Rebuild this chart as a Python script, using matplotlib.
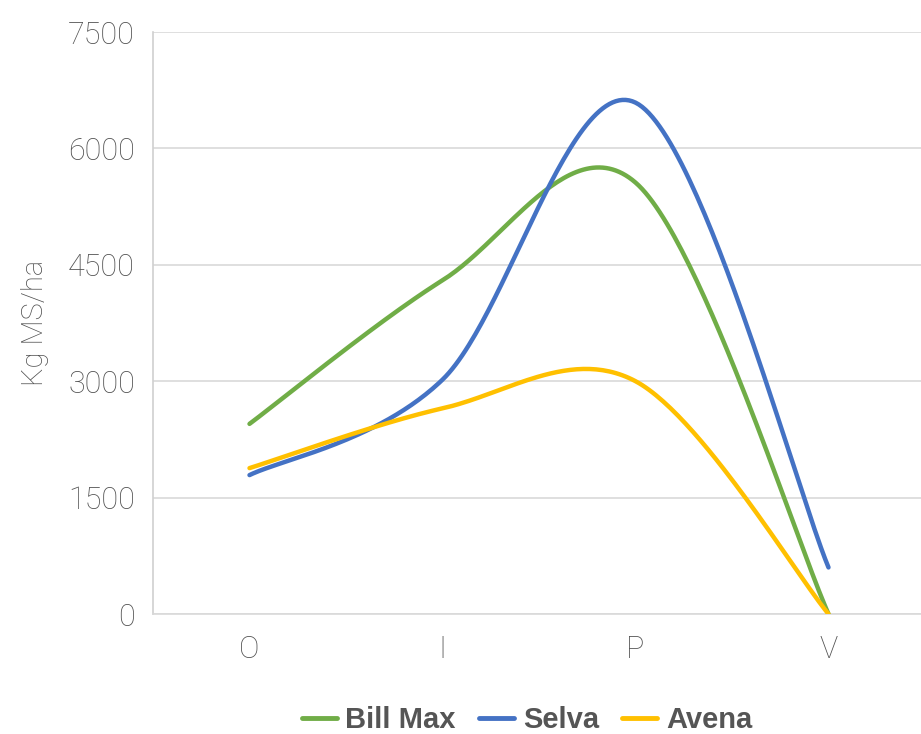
import numpy as np
import matplotlib
matplotlib.use("Agg")
import matplotlib.pyplot as plt
from matplotlib.lines import Line2D

categories = ["O", "I", "P", "V"]
bill_max = [2450, 4300, 5560, 0]
selva = [1790, 3020, 6590, 600]
avena = [1880, 2650, 3000, 0]
series_names = ["Bill Max", "Selva", "Avena"]
colors = ["#70AD47", "#4472C4", "#FFC000"]
yticks = [0, 1500, 3000, 4500, 6000, 7500]

plt.rcParams['font.family'] = ['Roboto', 'DejaVu Sans']


def smooth(xs, ys, n=60):
    xs = np.asarray(xs, float)
    ys = np.asarray(ys, float)
    P = np.column_stack([xs, ys])
    pts = []
    m = len(P)
    for i in range(m - 1):
        p0 = P[i - 1] if i > 0 else P[i]
        p1 = P[i]
        p2 = P[i + 1]
        p3 = P[i + 2] if i + 2 < m else P[i + 1]
        c1 = p1 + (p2 - p0) / 6.0
        c2 = p2 - (p3 - p1) / 6.0
        t = np.linspace(0, 1, n)[:, None]
        seg = ((1 - t) ** 3) * p1 + 3 * ((1 - t) ** 2) * t * c1 + 3 * (1 - t) * t ** 2 * c2 + t ** 3 * p2
        pts.append(seg if i == 0 else seg[1:])
    pts = np.vstack(pts)
    return pts[:, 0], pts[:, 1]


fig = plt.figure(figsize=(9.21, 7.34), dpi=100)
ax = fig.add_axes([153 / 921, 1 - 614 / 734, (925 - 153) / 921, (614 - 32) / 734])

x = np.arange(len(categories))
for name, vals, c in zip(series_names, [bill_max, selva, avena], colors):
    sx, sy = smooth(x, vals)
    ax.plot(sx, sy, color=c, lw=3.2, solid_capstyle='round', label=name, zorder=3)

ax.set_xlim(-0.5, 3.5)
ax.set_ylim(0, 7500)
ax.set_yticks(yticks)
ax.set_xticks(x)
ax.set_xticklabels(categories)
ax.yaxis.grid(True, color="#D9D9D9", lw=1.2)
ax.set_axisbelow(True)
for s in ["top", "right"]:
    ax.spines[s].set_visible(False)
ax.spines["left"].set_color("#D0D0D0")
ax.spines["bottom"].set_color("#D9D9D9")
ax.spines["left"].set_linewidth(1.2)
ax.spines["bottom"].set_linewidth(1.2)
ax.tick_params(axis='both', length=0, labelsize=22, labelcolor="#505050")
ax.tick_params(axis='y', pad=13)
ax.tick_params(axis='x', pad=15)
for lab in ax.get_xticklabels() + ax.get_yticklabels():
    lab.set_fontweight('light')

ax.set_ylabel("Kg MS/ha", fontsize=21, color="#505050", fontweight='light', labelpad=14)

handles = [Line2D([0], [0], color=c, lw=3.5, solid_capstyle='round') for c in colors]
leg = fig.legend(handles, series_names, loc='center', bbox_to_anchor=(527 / 921, 1 - 720 / 734),
                 ncol=3, frameon=False, handlelength=1.2, handletextpad=0.3, columnspacing=0.8,
                 prop={'size': 21, 'weight': 'bold', 'family': ['Liberation Sans', 'DejaVu Sans']})
for t in leg.get_texts():
    t.set_color("#555555")

fig.savefig("out.png", dpi=100)
